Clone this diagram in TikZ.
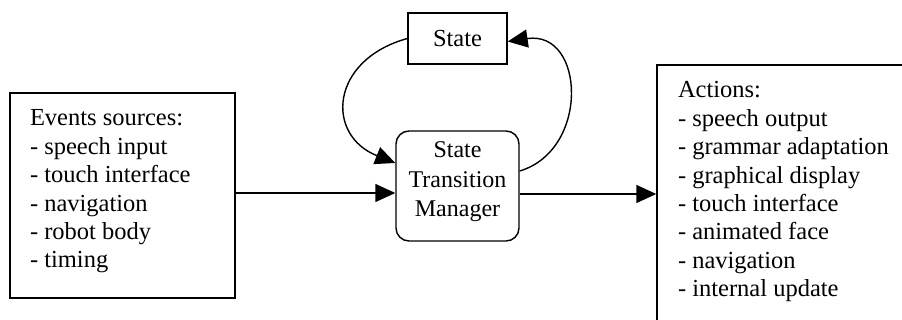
\documentclass[tikz,border=0pt]{standalone}
\usepackage{fontspec}
\setmainfont{Liberation Serif}
\usetikzlibrary{arrows.meta}
\tikzset{
  txt/.style={font=\fontsize{24.5}{28.4}\selectfont},
  box/.style={draw, line width=1.4pt, inner sep=0pt, txt},
  conn/.style={line width=1.4pt, -{Triangle[length=20pt,width=18pt]}},
}
\begin{document}
\begin{tikzpicture}[x=1pt,y=-1pt]
\clip (0,0) rectangle (902,320);
\fill[white] (0,0) rectangle (902,320);
% Events box
\node[box, minimum width=225pt, minimum height=205pt, text height=20pt, text depth=159pt]
  (events) at (122.5,195.5)
  {\begin{tabular}[t]{@{}p{185pt}@{}}Events sources:\\- speech input\\- touch interface\\- navigation\\- robot body\\- timing\end{tabular}};
% State box
\node[box, minimum width=99pt, minimum height=51pt] (state) at (457.5,38.5) {State};
% State Transition Manager
\node[box, rounded corners=13pt, minimum width=123pt, minimum height=110pt,
  text height=20pt, text depth=76pt, font=\fontsize{24}{29.3}\selectfont]
  (stm) at (457.5,186)
  {\begin{tabular}[t]{@{}c@{}}State\\Transition\\Manager\end{tabular}};
% Actions box (extends beyond the picture)
\node[box, minimum width=263pt, minimum height=275pt, text height=20pt, text depth=229pt]
  (actions) at (788.5,202.5)
  {\begin{tabular}[t]{@{}p{221pt}@{}}Actions:\\- speech output\\- grammar adaptation\\- graphical display\\- touch interface\\- animated face\\- navigation\\- internal update\end{tabular}};
% connectors
\draw[conn] ([yshift=2.5pt]events.east) -- ([yshift=2.5pt]events.east -| stm.west);
\draw[conn] ([yshift=-8pt]stm.east) -- ([yshift=-8pt]stm.east -| actions.west);
\draw[conn] (state.west) .. controls (330,60) and (325,135) .. ([yshift=23pt]stm.west);
\draw[conn] ([yshift=15pt]stm.east) .. controls (590,150) and (585,30) .. ([yshift=-3pt]state.east);
\end{tikzpicture}
\end{document}
